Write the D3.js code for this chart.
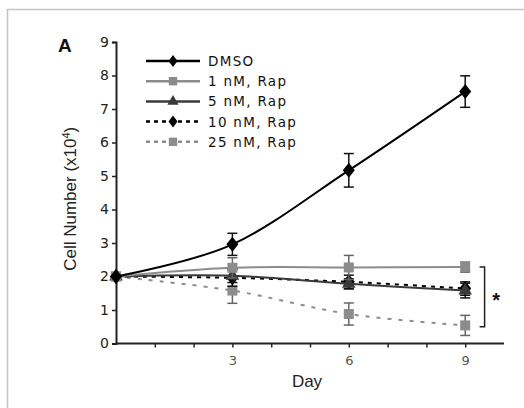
<!DOCTYPE html>
<html>
<head>
<meta charset="utf-8">
<script src="https://cdn.jsdelivr.net/npm/d3@7"></script>
<style>
  body { margin: 0; background: #fff; }
  svg { display: block; }
</style>
</head>
<body>
<div id="chart"></div>
<script>
// data
const days = [0, 3, 6, 9];
const seriesNames = ['DMSO', '1 nM, Rap', '5 nM, Rap', '10 nM, Rap', '25 nM, Rap'];
const dmso = [2.0, 2.96, 5.17, 7.52];
const dmsoErr = [0, 0.33, 0.5, 0.47];
const rap1 = [2.0, 2.26, 2.27, 2.28];
const rap1Err = [0, 0.3, 0.36, 0.15];
const rap5 = [2.0, 2.02, 1.78, 1.58];
const rap5Err = [0, 0.2, 0.15, 0.22];
const rap10 = [2.0, 1.96, 1.84, 1.64];
const rap10Err = [0, 0.25, 0.2, 0.2];
const rap25 = [2.0, 1.58, 0.88, 0.54];
const rap25Err = [0, 0.38, 0.33, 0.3];
const yTicks = [0, 1, 2, 3, 4, 5, 6, 7, 8, 9];
const xTicks = [1, 2, 3, 4, 5, 6, 7, 8, 9];
const xLabels = [3, 6, 9];

const series = [
  { name: seriesNames[4], v: rap25, e: rap25Err, color: '#8c8c8c', dash: '4,7', marker: 'square' },
  { name: seriesNames[3], v: rap10, e: rap10Err, color: '#000', dash: '4,5', marker: 'diamond' },
  { name: seriesNames[2], v: rap5, e: rap5Err, color: '#3a3a3a', dash: null, marker: 'triangle' },
  { name: seriesNames[1], v: rap1, e: rap1Err, color: '#8c8c8c', dash: null, marker: 'square' },
  { name: seriesNames[0], v: dmso, e: dmsoErr, color: '#000', dash: null, marker: 'diamond' }
];

const W = 524, H = 408;
const svg = d3.select('#chart').append('svg')
  .attr('width', W).attr('height', H);

// panel frame
svg.append('rect')
  .attr('x', 7.5).attr('y', 9.5)
  .attr('width', W).attr('height', H)
  .attr('fill', '#fff').attr('stroke', '#c4c4c4').attr('stroke-width', 1.5);

const x = d3.scaleLinear().domain([0, 10]).range([116, 504]);
const y = d3.scaleLinear().domain([0, 9]).range([343.5, 42]);

const font = "'DejaVu Sans', Verdana, sans-serif";

// y axis
const yAxis = svg.append('g')
  .attr('transform', `translate(${x(0)},0)`)
  .call(d3.axisLeft(y).tickValues(yTicks).tickSize(4).tickPadding(3).tickFormat(d3.format('d')));
yAxis.select('.domain').attr('stroke', '#222').attr('stroke-width', 2);
yAxis.selectAll('.tick line').attr('stroke', '#222').attr('stroke-width', 1.5);
yAxis.selectAll('text').attr('font-family', font).attr('font-size', 14).attr('fill', '#222');

// x axis
const xAxis = svg.append('g')
  .attr('transform', `translate(0,${y(0)})`)
  .call(d3.axisBottom(x).tickValues(xTicks).tickSize(4).tickPadding(8)
    .tickFormat(d => xLabels.includes(d) ? d : ''));
xAxis.select('.domain').attr('stroke', '#222').attr('stroke-width', 2)
  .attr('d', `M${x(0)},0H${x(10)}`);
xAxis.selectAll('.tick line').attr('stroke', '#222').attr('stroke-width', 1.5);
xAxis.selectAll('text').attr('font-family', font).attr('font-size', 13).attr('fill', '#555');

// axis titles
svg.append('text')
  .attr('transform', `translate(76,${(y(0) + y(9)) / 2 + 6}) rotate(-90)`)
  .attr('text-anchor', 'middle')
  .attr('font-family', "'Liberation Sans', Arial, sans-serif")
  .attr('font-size', 17).attr('fill', '#222')
  .text('Cell Number (x10')
  .append('tspan').attr('baseline-shift', 'super').attr('font-size', 11).text('4')
  .select(function () { return this.parentNode; })
  .append('tspan').text(')');

svg.append('text')
  .attr('x', 307).attr('y', 387)
  .attr('text-anchor', 'middle')
  .attr('font-family', "'Liberation Sans', Arial, sans-serif")
  .attr('font-size', 17).attr('fill', '#222')
  .text('Day');

svg.append('text')
  .attr('x', 58).attr('y', 52)
  .attr('font-family', "'Liberation Sans', Arial, sans-serif")
  .attr('font-weight', 'bold').attr('font-size', 19).attr('fill', '#111')
  .text('A');

// marker shapes (Excel-like wide diamond)
function diamond(w, h) {
  return `M0,${-h}L${w},0L0,${h}L${-w},0Z`;
}
const symbols = {
  diamond: diamond(6, 7.5),
  square: d3.symbol().type(d3.symbolSquare).size(100)(),
  triangle: d3.symbol().type(d3.symbolTriangle).size(80)()
};
const legendSymbols = {
  diamond: diamond(4.5, 6),
  square: d3.symbol().type(d3.symbolSquare).size(70)(),
  triangle: d3.symbol().type(d3.symbolTriangle).size(55)()
};

const line = d3.line()
  .x((d, i) => x(days[i]))
  .y(d => y(d))
  .curve(d3.curveCatmullRom.alpha(0));

series.forEach(s => {
  const g = svg.append('g');
  g.append('path')
    .attr('d', line(s.v))
    .attr('fill', 'none')
    .attr('stroke', s.color)
    .attr('stroke-width', 2)
    .attr('stroke-dasharray', s.dash);

  // error bars
  const eb = g.selectAll('.eb').data(s.v.map((v, i) => ({ v, e: s.e[i], d: days[i] })).filter(d => d.e > 0))
    .enter().append('g').attr('class', 'eb')
    .attr('stroke', s.color === '#8c8c8c' ? '#666' : '#111').attr('stroke-width', 1.5);
  eb.append('line')
    .attr('x1', d => x(d.d)).attr('x2', d => x(d.d))
    .attr('y1', d => y(d.v + d.e)).attr('y2', d => y(d.v - d.e));
  eb.append('line')
    .attr('x1', d => x(d.d) - 5).attr('x2', d => x(d.d) + 5)
    .attr('y1', d => y(d.v + d.e)).attr('y2', d => y(d.v + d.e));
  eb.append('line')
    .attr('x1', d => x(d.d) - 5).attr('x2', d => x(d.d) + 5)
    .attr('y1', d => y(d.v - d.e)).attr('y2', d => y(d.v - d.e));

  g.selectAll('.pt').data(s.v).enter().append('path')
    .attr('class', 'pt')
    .attr('d', symbols[s.marker])
    .attr('transform', (d, i) => `translate(${x(days[i])},${y(d)})`)
    .attr('fill', s.color);
});

// significance bracket
const bx = x(9.5);
svg.append('path')
  .attr('d', `M${bx - 5},${y(2.28)}H${bx}V${y(0.5)}H${bx - 5}`)
  .attr('fill', 'none').attr('stroke', '#222').attr('stroke-width', 1.5);
svg.append('text')
  .attr('x', x(9.8)).attr('y', y(1.39) + 10)
  .attr('text-anchor', 'middle')
  .attr('font-family', "'Liberation Sans', Arial, sans-serif")
  .attr('font-weight', 'bold').attr('font-size', 20).attr('fill', '#111')
  .text('*');

// legend
const legendOrder = series.slice().reverse();
const lg = svg.append('g').attr('transform', 'translate(146,61)');
legendOrder.forEach((s, i) => {
  const row = lg.append('g').attr('transform', `translate(0,${i * 20.2})`);
  row.append('line')
    .attr('x1', 0).attr('x2', 54).attr('y1', 0).attr('y2', 0)
    .attr('stroke', s.color).attr('stroke-width', 2.5)
    .attr('stroke-dasharray', s.dash ? '4,4' : null);
  row.append('path')
    .attr('d', legendSymbols[s.marker])
    .attr('transform', 'translate(27,0)')
    .attr('fill', s.color);
  row.append('text')
    .attr('x', 62).attr('y', 5)
    .attr('font-family', font).attr('font-size', 13.5)
    .attr('letter-spacing', 1.3).attr('fill', '#111')
    .text(s.name);
});
</script>
</body>
</html>
